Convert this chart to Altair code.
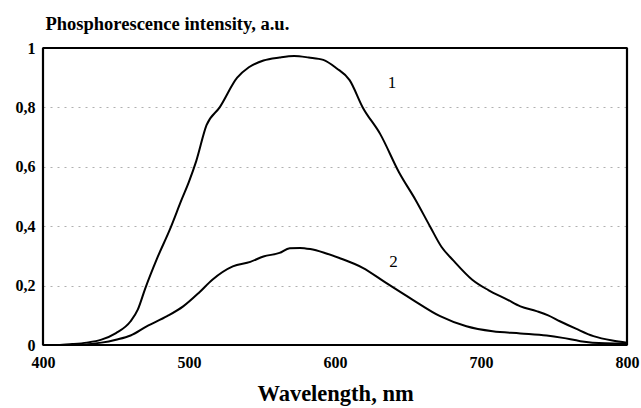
import altair as alt
import pandas as pd

# Curve 1
wl1 = [400, 410, 420, 430, 440, 450, 460, 465, 470, 478, 487, 495, 500, 505, 512, 521, 533, 541, 551, 562, 572, 582, 592, 601, 610, 619, 631, 644, 655, 665, 673, 681, 694, 705, 718, 727, 738, 746, 754, 765, 777, 790, 800]
v1 = [0.0, 0.0, 0.003, 0.008, 0.018, 0.04, 0.08, 0.12, 0.19, 0.29, 0.39, 0.49, 0.55, 0.62, 0.74, 0.80, 0.90, 0.935, 0.958, 0.968, 0.973, 0.968, 0.960, 0.932, 0.892, 0.80, 0.71, 0.58, 0.49, 0.40, 0.33, 0.285, 0.22, 0.185, 0.153, 0.13, 0.114, 0.10, 0.08, 0.055, 0.03, 0.015, 0.008]

# Curve 2
wl2 = [400, 420, 440, 450, 460, 471, 485, 496, 507, 516, 530, 542, 551, 562, 569, 576, 583, 593, 603, 619, 635, 653, 672, 690, 708, 727, 745, 756, 768, 785, 800]
v2 = [0.0, 0.0, 0.008, 0.018, 0.032, 0.063, 0.097, 0.13, 0.177, 0.22, 0.265, 0.28, 0.298, 0.31, 0.326, 0.327, 0.323, 0.31, 0.293, 0.26, 0.209, 0.153, 0.097, 0.063, 0.046, 0.039, 0.032, 0.024, 0.013, 0.006, 0.005]

label_text = ["1", "2"]
label_wl = [639, 640]
label_v = [0.882, 0.28]

# frame edges (axis box) in data units
frame_x = [400, 400, 400, 800]
frame_x2 = [800, 800, 400, 800]
frame_y = [0, 1, 0, 0]
frame_y2 = [0, 1, 1, 1]

df = pd.concat([
    pd.DataFrame({"wl": wl1, "v": v1, "curve": "1"}),
    pd.DataFrame({"wl": wl2, "v": v2, "curve": "2"}),
])
lab = pd.DataFrame({"t": label_text, "wl": label_wl, "v": label_v})
fr = pd.DataFrame({"wl": frame_x, "wl2": frame_x2, "v": frame_y, "v2": frame_y2})

serif = "Liberation Serif"
xs = alt.Scale(domain=[400, 800], nice=False)
ys = alt.Scale(domain=[0, 1], nice=False)

x = alt.X("wl:Q", scale=xs,
          axis=alt.Axis(values=[400, 500, 600, 700, 800], title="Wavelength, nm",
                        grid=False, ticks=False, domain=False,
                        labelFontSize=16, labelPadding=9, labelFlush=False,
                        titleFontSize=22.5, titlePadding=12))
y = alt.Y("v:Q", scale=ys,
          axis=alt.Axis(values=[0, 0.2, 0.4, 0.6, 0.8, 1],
                        labelExpr="replace(format(datum.value, '.1~f'), '.', ',')",
                        title="Phosphorescence intensity, a.u.",
                        titleAngle=0, titleAlign="left", titleBaseline="middle",
                        titleX=2, titleY=-25, titleFontSize=18.5,
                        grid=True, gridColor="#b0b0b0", gridDash=[2, 5], gridWidth=1,
                        ticks=False, domain=False,
                        labelFontSize=16, labelPadding=8))

frame = alt.Chart(fr).mark_rule(color="#000000", strokeWidth=2.2, opacity=1).encode(
    x=x, x2="wl2:Q", y=y, y2="v2:Q")

lines = alt.Chart(df).mark_line(color="black", strokeWidth=2, interpolate="monotone").encode(
    x="wl:Q", y="v:Q", detail="curve:N")

texts = alt.Chart(lab).mark_text(font=serif, fontSize=17, color="black").encode(
    x="wl:Q", y="v:Q", text="t:N")

chart = (frame + lines + texts).properties(
    width=584, height=297,
    background="white",
    autosize=alt.AutoSizeParams(type="none"),
    padding={"left": 43, "top": 48, "right": 14, "bottom": 63},
).configure_view(
    stroke="black", strokeWidth=1.5
).configure_axis(
    labelFont=serif, labelFontWeight="bold", labelColor="black",
    titleFont=serif, titleFontWeight="bold", titleColor="black",
)

chart.save("out.html", embed_options={"renderer": "svg", "actions": False})
